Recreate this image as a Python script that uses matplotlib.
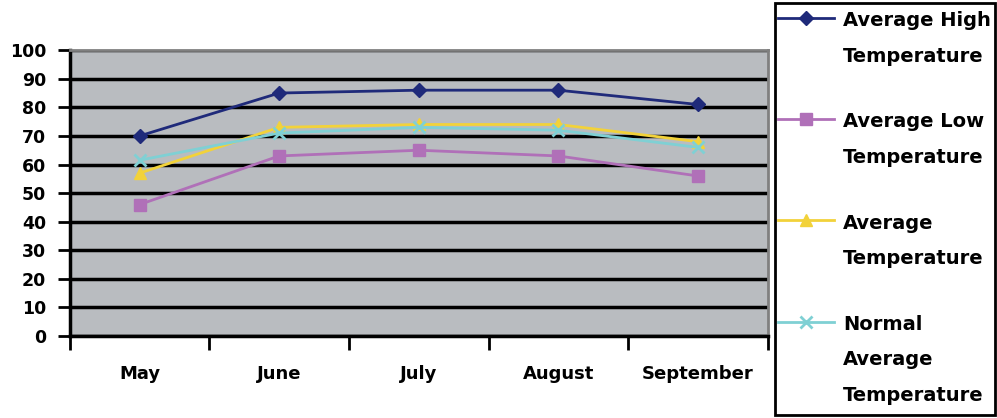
import matplotlib.pyplot as plt
from matplotlib.patches import Rectangle

# === Data ===
months = ["May", "June", "July", "August", "September"]
avg_high = [70, 85, 86, 86, 81]
avg_low = [46, 63, 65, 63, 56]
avg_temp = [57, 73, 74, 74, 68]
normal_avg = [61.5, 71, 73, 72, 66]

series = [
    ("Average High\nTemperature", avg_high, "#1f2a7a", "D", 7),
    ("Average Low\nTemperature", avg_low, "#b070b8", "s", 9),
    ("Average\nTemperature", avg_temp, "#f2d23a", "^", 8),
    ("Normal\nAverage\nTemperature", normal_avg, "#7fd0d4", "x", 8),
]

plt.rcParams['font.family'] = 'DejaVu Sans'
plt.rcParams['font.weight'] = 'bold'

fig = plt.figure(figsize=(9.97, 4.18), dpi=100)
ax = fig.add_axes([0.070, 0.196, 0.700, 0.684])
ax.set_facecolor("#b9bcc0")

x = list(range(len(months)))
handles = []
for label, vals, color, marker, ms in series:
    h, = ax.plot(x, vals, color=color, lw=2, marker=marker, ms=ms,
                 mew=2 if marker == "x" else 1, label=label, zorder=3)
    handles.append(h)

ax.set_xlim(-0.5, 4.5)
ax.set_ylim(0, 100)
ax.set_yticks(range(0, 101, 10))
ax.yaxis.grid(True, color="black", lw=2.5)
ax.set_axisbelow(True)

# ticks between categories, labels at centres
ax.set_xticks([i - 0.5 for i in range(len(months) + 1)])
ax.set_xticklabels([])
ax.set_xticks(x, minor=True)
ax.set_xticklabels(months, minor=True)
ax.tick_params(axis="x", which="minor", length=0, pad=21, labelsize=13)
ax.tick_params(axis="x", which="major", length=10, width=2, direction="out")
ax.tick_params(axis="y", length=9, width=2, labelsize=12.5, pad=8)

for s in ["left", "bottom"]:
    ax.spines[s].set_linewidth(2.5)
    ax.spines[s].set_color("black")
for s in ["top", "right"]:
    ax.spines[s].set_linewidth(2)
    ax.spines[s].set_color("#808080")

# legend box
fig.patches.append(Rectangle((0.777, 0.008), 0.221, 0.985, transform=fig.transFigure,
                             fill=False, edgecolor="black", lw=2))
leg = fig.legend(handles=handles, loc="upper left", bbox_to_anchor=(0.780, 0.973),
                 frameon=False, fontsize=14, labelspacing=2.4, handlelength=2.9,
                 handletextpad=0.45, borderaxespad=0, borderpad=0)
for t in leg.get_texts():
    t.set_linespacing(2.1)
# put the handle level with the first text line
for col in leg._legend_handle_box.get_children():
    for row in col.get_children():
        row.align = "top"

plt.savefig("out.png", dpi=100)
